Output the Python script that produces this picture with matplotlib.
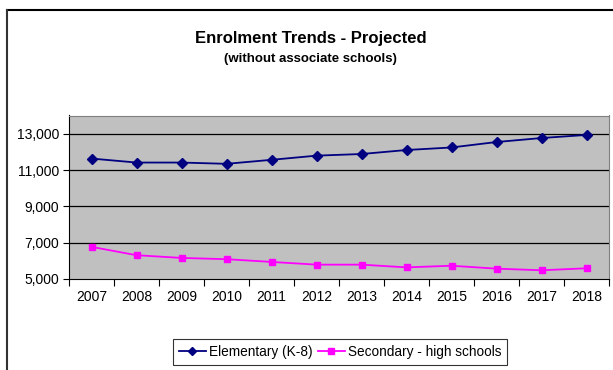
import matplotlib
matplotlib.use('Agg')
import matplotlib.pyplot as plt
from matplotlib.lines import Line2D

years = ['2007', '2008', '2009', '2010', '2011', '2012', '2013', '2014', '2015', '2016', '2017', '2018']
elementary = [11630, 11410, 11410, 11340, 11560, 11790, 11880, 12100, 12240, 12540, 12760, 12930]
secondary = [6770, 6310, 6160, 6090, 5940, 5790, 5790, 5640, 5730, 5570, 5480, 5590]
yticks = [5000, 7000, 9000, 11000, 13000]

plt.rcParams['font.family'] = ['Liberation Sans', 'DejaVu Sans']

fig = plt.figure(figsize=(6.13, 3.70), dpi=100)
ax = fig.add_axes([69/613, 1-279/370, 540/613, 163.5/370])
ax.set_facecolor('#c0c0c0')

x = list(range(len(years)))
ax.plot(x, elementary, '-D', color='#000080', markersize=5, linewidth=1.3, label='Elementary (K-8)')
ax.plot(x, secondary, '-s', color='#ff00ff', markersize=5, linewidth=1.3, label='Secondary - high schools')

ax.set_xlim(-0.5, len(years) - 0.5)
ax.set_ylim(5000, 14000)
ax.set_yticks(yticks)
ax.set_yticklabels([f'{v:,}' for v in yticks], fontsize=10)
for v in yticks[1:]:
    ax.axhline(v, color='black', linewidth=0.9, zorder=1)

ax.set_xticks([i - 0.5 for i in range(len(years) + 1)])
ax.set_xticklabels([])
ax.set_xticks(x, minor=True)
ax.set_xticklabels(years, minor=True, fontsize=10)
ax.tick_params(axis='x', which='minor', length=0, pad=8)
ax.tick_params(axis='x', which='major', length=5, color='black')
ax.tick_params(axis='y', length=4, pad=3)

for s in ['top', 'right']:
    ax.spines[s].set_color('#808080')
for s in ['left', 'bottom']:
    ax.spines[s].set_color('black')

fig.text(0.507, 1-38/370, 'Enrolment Trends - Projected', ha='center', va='center',
         fontsize=12, fontweight='bold')
fig.text(0.507, 1-59/370, '(without associate schools)', ha='center', va='center',
         fontsize=9.5, fontweight='bold')

leg = fig.legend(loc='center', bbox_to_anchor=(340/613, 1-352/370), ncol=2, fontsize=9.8,
                 frameon=True, fancybox=False, edgecolor='black', handlelength=2.0,
                 columnspacing=0.4, handletextpad=0.2, borderpad=0.45, markerscale=0.8)
leg.get_frame().set_linewidth(0.8)

# chart border
fig.add_artist(Line2D([7/613, 1], [1-10/370, 1-10/370], color='black', linewidth=1.5))
fig.add_artist(Line2D([7/613, 7/613], [0, 1-10/370], color='#333333', linewidth=1.5))

fig.savefig('out.png', dpi=100)
